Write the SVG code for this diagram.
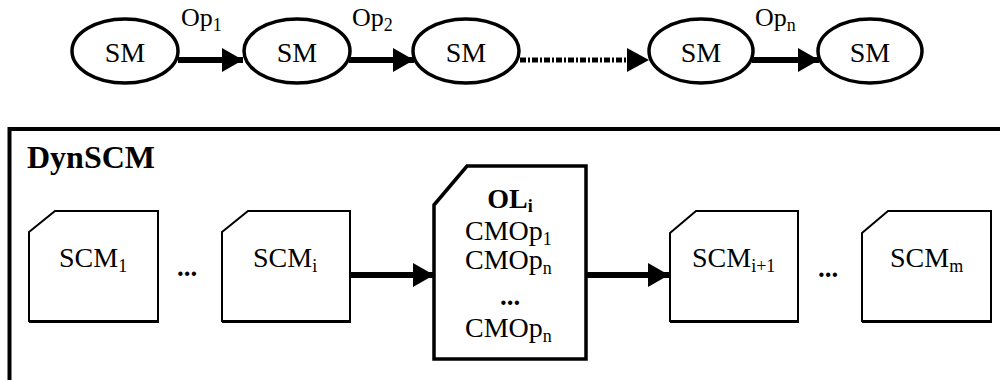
<svg xmlns="http://www.w3.org/2000/svg" width="1000" height="380" viewBox="0 0 1000 380">
<style>
text{font-family:"Liberation Serif","Times New Roman",serif;fill:#000}
.lbl{font-size:28px}
.sm{font-size:28px;text-anchor:middle}
.op{font-size:26px}
.sub{font-size:18px}
.ell{fill:#fff;stroke:#000;stroke-width:3.5}
.doc{fill:#fff;stroke:#000;stroke-width:2}
.docb{fill:#fff;stroke:#000;stroke-width:3.5}
.arr{stroke:#000;stroke-width:6;fill:none}
.dots{font-size:27px;font-weight:bold;text-anchor:middle}
</style>
<defs>
<marker id="ah" markerUnits="userSpaceOnUse" markerWidth="22" markerHeight="24" refX="21" refY="12" orient="auto">
<path d="M0,0 L21,12 L0,24 Z" fill="#000"/>
</marker>
</defs>
<g id="frame">
<path d="M9.5,380 L9.5,129 L1000,129" fill="none" stroke="#000" stroke-width="4"/>
<text x="27" y="168" font-size="32" font-weight="bold">DynSCM</text>
</g>
<g id="connectors">
<line class="arr" x1="178" y1="60" x2="243" y2="60" marker-end="url(#ah)"/>
<line class="arr" x1="349" y1="60" x2="414" y2="60" marker-end="url(#ah)"/>
<line x1="520" y1="60" x2="629" y2="60" stroke="#000" stroke-width="5" stroke-dasharray="6 2 2 2"/>
<path d="M627,48 L649,60 L627,72 Z" fill="#000"/>
<line class="arr" x1="752" y1="60" x2="819" y2="60" marker-end="url(#ah)"/>
<text class="op" x="181" y="26">Op<tspan class="sub" dy="5">1</tspan></text>
<text class="op" x="352" y="26">Op<tspan class="sub" dy="5">2</tspan></text>
<text class="op" x="755" y="26">Op<tspan class="sub" dy="5">n</tspan></text>
<line class="arr" x1="350" y1="275" x2="434" y2="275" marker-end="url(#ah)"/>
<line class="arr" x1="587" y1="275" x2="669" y2="275" marker-end="url(#ah)"/>
</g>
<g id="sm1"><ellipse class="ell" cx="125" cy="51" rx="53" ry="32"/><text class="sm" x="125" y="62">SM</text></g>
<g id="sm2"><ellipse class="ell" cx="297" cy="51" rx="53" ry="32"/><text class="sm" x="297" y="62">SM</text></g>
<g id="sm3"><ellipse class="ell" cx="466" cy="51" rx="53" ry="32"/><text class="sm" x="466" y="62">SM</text></g>
<g id="sm4"><ellipse class="ell" cx="701" cy="51" rx="52" ry="32"/><text class="sm" x="701" y="62">SM</text></g>
<g id="sm5"><ellipse class="ell" cx="870" cy="51" rx="52" ry="32"/><text class="sm" x="870" y="62">SM</text></g>
<g id="scm1">
<path class="doc" d="M29,232 L55,211 L158,211 L158,321 L29,321 Z"/>
<line x1="29" y1="322" x2="159" y2="322" stroke="#000" stroke-width="2"/>
<text class="lbl" x="59" y="267">SCM<tspan class="sub" dy="5">1</tspan></text>
</g>
<text class="dots" x="187" y="276">...</text>
<g id="scmi">
<path class="doc" d="M222,232 L248,211 L350,211 L350,321 L222,321 Z"/>
<line x1="222" y1="322" x2="351" y2="322" stroke="#000" stroke-width="2"/>
<text class="lbl" x="253" y="267">SCM<tspan class="sub" dy="5">i</tspan></text>
</g>
<g id="oli">
<path class="docb" d="M434,205 L467,166 L586,166 L586,359 L434,359 Z"/>
<text x="510" y="208" font-size="28" font-weight="bold" text-anchor="middle">OL<tspan font-size="18" dy="4">i</tspan></text>
<text class="lbl" x="465" y="240">CMOp<tspan class="sub" dy="5">1</tspan></text>
<text class="lbl" x="465" y="269">CMOp<tspan class="sub" dy="5">n</tspan></text>
<text class="dots" x="510" y="305">...</text>
<text class="lbl" x="465" y="337">CMOp<tspan class="sub" dy="5">n</tspan></text>
</g>
<g id="scmi1">
<path class="doc" d="M670,233 L696,211 L798,211 L798,321 L670,321 Z"/>
<line x1="670" y1="322" x2="799" y2="322" stroke="#000" stroke-width="2"/>
<text class="lbl" x="692" y="267">SCM<tspan class="sub" dy="5">i+1</tspan></text>
</g>
<text class="dots" x="828" y="277">...</text>
<g id="scmm">
<path class="doc" d="M862,233 L888,211 L991,211 L991,321 L862,321 Z"/>
<line x1="862" y1="322" x2="992" y2="322" stroke="#000" stroke-width="2"/>
<text class="lbl" x="890" y="267">SCM<tspan class="sub" dy="5">m</tspan></text>
</g>
</svg>
